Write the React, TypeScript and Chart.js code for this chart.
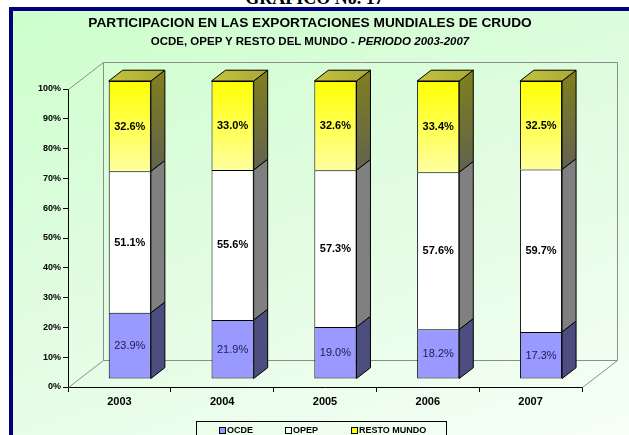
import { useEffect, useRef } from 'react';
import { Chart, registerables } from 'chart.js';

Chart.register(...registerables);

// ---- data ----
const categories = ['2003', '2004', '2005', '2006', '2007'];
const ocdeValues = [23.9, 21.9, 19.0, 18.2, 17.3];
const opepValues = [51.1, 55.6, 57.3, 57.6, 59.7];
const restoValues = [32.6, 33.0, 32.6, 33.4, 32.5];
const seriesNames = ['OCDE', 'OPEP', 'RESTO MUNDO'];
const yMax = 100;
const yStep = 10;

// 100% stacked: each column is scaled to its own total
const rawSeries = [ocdeValues, opepValues, restoValues];
const totals = categories.map((_, i) => rawSeries.reduce((s, a) => s + a[i], 0));
const toShare = (arr: number[]) => arr.map((v, i) => (v / totals[i]) * yMax);

// ---- styling / geometry ----
const FONT = "'Liberation Sans', Arial, Helvetica, sans-serif";
const WALL_DX = 35;
const WALL_DY = 27;
const BAR_SHIFT_X = 10.4;
const BAR_SHIFT_Y = 8;
const BAR_DX = 14;
const BAR_DY = 10.8;
const legendColors = ['#9999ff', '#ffffff', '#ffff00'];

function yellowFront(chart: any) {
  const y = chart.scales && chart.scales.y;
  if (!y) return '#ffff00';
  const y0 = y.getPixelForValue(100);
  const y1 = y.getPixelForValue(69);
  if (!isFinite(y0) || !isFinite(y1) || y0 === y1) return '#ffff00';
  const g = chart.ctx.createLinearGradient(0, y0, 0, y1);
  g.addColorStop(0, '#ffff00');
  g.addColorStop(1, '#ffffa3');
  return g;
}

function sideFill(ctx: CanvasRenderingContext2D, di: number, top: number, bot: number) {
  if (di === 0) return '#4d4d80';
  if (di === 1) return '#808080';
  const g = ctx.createLinearGradient(0, top - BAR_DY, 0, bot);
  g.addColorStop(0, '#80801c');
  g.addColorStop(1, '#626250');
  return g;
}

const depthPlugin = {
  id: 'depth3d',
  beforeDatasetsDraw(chart: any) {
    const { ctx, chartArea: a } = chart;
    const L = Math.round(a.left) + 0.5;
    const R = Math.round(a.right) + 0.5;
    const T = Math.round(a.top) + 0.5;
    const B = Math.round(a.bottom) + 0.5;
    ctx.save();
    ctx.strokeStyle = '#8c8c8c';
    ctx.lineWidth = 1;
    ctx.beginPath();
    ctx.moveTo(L, T);
    ctx.lineTo(L + WALL_DX, T - WALL_DY);
    ctx.moveTo(L, B);
    ctx.lineTo(L + WALL_DX, B - WALL_DY);
    ctx.moveTo(R, B);
    ctx.lineTo(R + WALL_DX, B - WALL_DY);
    ctx.rect(L + WALL_DX, T - WALL_DY, R - L, B - T);
    ctx.stroke();
    ctx.restore();
    ctx.save();
    ctx.translate(BAR_SHIFT_X, -BAR_SHIFT_Y);
  },
  afterDatasetsDraw(chart: any) {
    const ctx: CanvasRenderingContext2D = chart.ctx;
    const n = chart.data.datasets.length;
    ctx.lineWidth = 1;
    ctx.strokeStyle = '#000';
    ctx.lineJoin = 'miter';
    for (let di = 0; di < n; di++) {
      const meta = chart.getDatasetMeta(di);
      meta.data.forEach((el: any) => {
        const p = el.getProps(['x', 'y', 'base', 'width'], true);
        if (![p.x, p.y, p.base, p.width].every((v) => isFinite(v))) return;
        const l = p.x - p.width / 2;
        const r = p.x + p.width / 2;
        const top = Math.min(p.y, p.base);
        const bot = Math.max(p.y, p.base);
        ctx.beginPath();
        ctx.moveTo(r, top);
        ctx.lineTo(r + BAR_DX, top - BAR_DY);
        ctx.lineTo(r + BAR_DX, bot - BAR_DY);
        ctx.lineTo(r, bot);
        ctx.closePath();
        ctx.fillStyle = sideFill(ctx, di, top, bot);
        ctx.fill();
        ctx.stroke();
        if (di === n - 1) {
          ctx.beginPath();
          ctx.moveTo(l, top);
          ctx.lineTo(l + BAR_DX, top - BAR_DY);
          ctx.lineTo(r + BAR_DX, top - BAR_DY);
          ctx.lineTo(r, top);
          ctx.closePath();
          const g = ctx.createLinearGradient(l, 0, r + BAR_DX, 0);
          g.addColorStop(0, '#c4c43c');
          g.addColorStop(1, '#a8a838');
          ctx.fillStyle = g;
          ctx.fill();
          ctx.stroke();
        }
      });
    }
    // value labels
    ctx.textAlign = 'center';
    ctx.textBaseline = 'middle';
    for (let di = 0; di < n; di++) {
      const meta = chart.getDatasetMeta(di);
      const raw = rawSeries[di];
      ctx.font = (di === 0 ? '' : 'bold ') + '11px ' + FONT;
      ctx.fillStyle = di === 0 ? '#1c1c50' : '#000';
      meta.data.forEach((el: any, i: number) => {
        const p = el.getProps(['x', 'y', 'base'], true);
        ctx.fillText(raw[i].toFixed(1) + '%', p.x, (p.y + p.base) / 2 + 0.5);
      });
    }
    ctx.restore();
  },
};

export default function App() {
  const ref = useRef<HTMLCanvasElement | null>(null);

  useEffect(() => {
    if (!ref.current) return;
    const chart = new Chart(ref.current, {
      type: 'bar',
      data: {
        labels: categories,
        datasets: [
          { label: seriesNames[0], data: toShare(ocdeValues), backgroundColor: '#9999ff',
            borderWidth: 1 },
          { label: seriesNames[1], data: toShare(opepValues), backgroundColor: '#ffffff',
            borderWidth: { top: 1, left: 1, right: 1, bottom: 0 } },
          { label: seriesNames[2], data: toShare(restoValues), backgroundColor: (c: any) => yellowFront(c.chart),
            borderWidth: { top: 1, left: 1, right: 1, bottom: 0 } },
        ].map((d) => ({
          ...d,
          borderColor: '#000',
          borderSkipped: false,
          categoryPercentage: 1,
          barPercentage: 0.41,
        })) as any,
      },
      options: {
        responsive: false,
        animation: false,
        devicePixelRatio: 1,
        layout: { padding: { left: 0, top: 89, right: 47, bottom: 0 } },
        plugins: {
          legend: { display: false },
          title: { display: false },
          tooltip: { enabled: false },
        },
        scales: {
          x: {
            stacked: true,
            afterFit: (s: any) => {
              s.height = 48;
            },
            grid: { drawOnChartArea: false, tickLength: 5, color: '#000', offset: true },
            border: { display: true, color: '#000', width: 1 },
            ticks: {
              color: '#000',
              padding: 3,
              font: { family: FONT, size: 11, weight: 'bold' },
            },
          },
          y: {
            stacked: true,
            min: 0,
            max: yMax,
            afterFit: (s: any) => {
              s.width = 68;
            },
            grid: { drawOnChartArea: false, tickLength: 5, color: '#000' },
            border: { display: true, color: '#000', width: 1 },
            ticks: {
              stepSize: yStep,
              color: '#000',
              padding: 2,
              font: { family: FONT, size: 9, weight: 'bold' },
              callback: (v: any) => v + '%',
            },
          },
        },
      } as any,
      plugins: [depthPlugin],
    });
    return () => chart.destroy();
  }, []);

  return (
    <div
      style={{
        position: 'fixed',
        left: 0,
        top: 0,
        width: 629,
        height: 435,
        overflow: 'hidden',
        background: '#ffffff',
        fontFamily: FONT,
      }}
    >
      <div
        style={{
          position: 'absolute',
          left: 0,
          width: 629,
          top: -11,
          textAlign: 'center',
          fontFamily: "'Liberation Serif', 'Times New Roman', serif",
          fontWeight: 'bold',
          fontSize: 18,
          lineHeight: '18px',
          whiteSpace: 'nowrap',
        }}
      >
        GRAFICO No. 17
      </div>
      <div
        style={{
          position: 'absolute',
          left: 9,
          top: 7,
          width: 620,
          height: 428,
          boxSizing: 'border-box',
          borderTop: '4px solid #000080',
          borderLeft: '4px solid #000080',
          background: 'linear-gradient(160deg, #ccffcc 0%, #e2fce2 50%, #f6fff6 100%)',
        }}
      />
      <canvas
        ref={ref}
        width={629}
        height={435}
        style={{ position: 'absolute', left: 0, top: 0, width: 629, height: 435, display: 'block' }}
      />
      <div
        style={{
          position: 'absolute',
          left: 0,
          width: 620,
          top: 15,
          textAlign: 'center',
          fontWeight: 'bold',
          fontSize: 13.7,
          lineHeight: '16px',
          color: '#000',
          whiteSpace: 'nowrap',
        }}
      >
        PARTICIPACION EN LAS EXPORTACIONES MUNDIALES DE CRUDO
      </div>
      <div
        style={{
          position: 'absolute',
          left: 0,
          width: 620,
          top: 34,
          textAlign: 'center',
          fontWeight: 'bold',
          fontSize: 11.5,
          lineHeight: '14px',
          color: '#000',
          whiteSpace: 'nowrap',
        }}
      >
        OCDE, OPEP Y RESTO DEL MUNDO - <i>PERIODO 2003-2007</i>
      </div>
      <div
        style={{
          position: 'absolute',
          left: 196,
          top: 421,
          width: 251,
          height: 24,
          boxSizing: 'border-box',
          border: '1px solid #000',
          paddingLeft: 22,
          display: 'flex',
          alignItems: 'flex-start',
        }}
      >
        {seriesNames.map((name, i) => (
          <div
            key={name}
            style={{
              width: 66,
              flexShrink: 0,
              display: 'flex',
              alignItems: 'center',
              marginTop: 3,
              fontWeight: 'bold',
              fontSize: 9,
              lineHeight: '11px',
              whiteSpace: 'nowrap',
            }}
          >
            <span
              style={{
                display: 'inline-block',
                flexShrink: 0,
                boxSizing: 'border-box',
                width: 7,
                height: 7,
                border: '1px solid #000',
                background: legendColors[i],
                marginRight: 1,
              }}
            />
            {name}
          </div>
        ))}
      </div>
    </div>
  );
}
